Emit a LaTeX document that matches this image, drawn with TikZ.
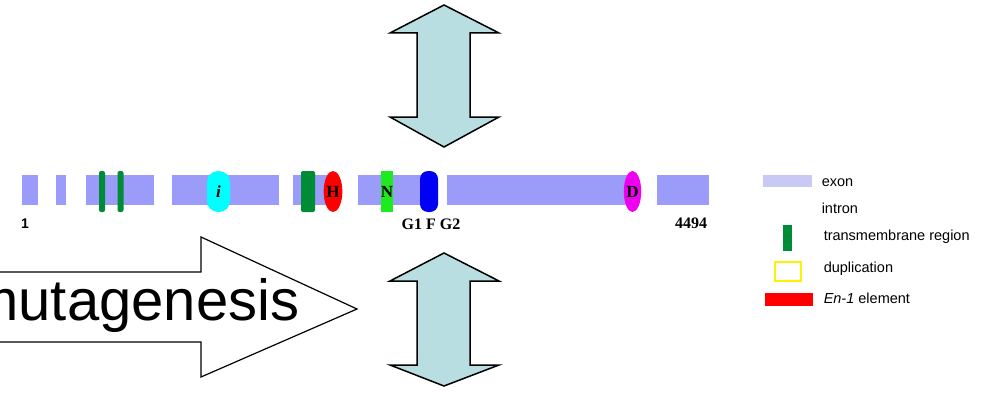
\documentclass[tikz,border=0pt]{standalone}
\usepackage{fontspec}
\setmainfont{Liberation Serif}
\setsansfont{Liberation Sans}
\usetikzlibrary{shapes.geometric}
\definecolor{exonblue}{RGB}{155,155,250}
\definecolor{exonlight}{RGB}{200,202,245}
\definecolor{tmgreen}{RGB}{0,140,55}
\definecolor{nbright}{RGB}{30,235,30}
\definecolor{icyan}{RGB}{0,255,255}
\definecolor{dmagenta}{RGB}{240,0,240}
\definecolor{fblue}{RGB}{0,0,245}
\definecolor{hred}{RGB}{255,0,0}
\definecolor{arrowfill}{RGB}{184,222,226}

\begin{document}
\begin{tikzpicture}[x=1pt, y=-1pt, line width=1.5pt,
    marker/.style={inner sep=0pt, minimum height=41pt, font=\fontsize{17}{17}\selectfont\bfseries},
    tm/.style={fill=tmgreen, inner sep=0pt, minimum height=41pt, rounded corners=2pt},
    numlabel/.style={font=\fontsize{16}{16}\selectfont\bfseries},
    legendtext/.style={anchor=west, inner sep=0pt, font=\sffamily\fontsize{14.5}{14.5}\selectfont}]
        \useasboundingbox (0,0) rectangle (993,396);

        % Double arrows
        \foreach \ya/\yb/\yc/\yd in {5/33/117/147, 253/281/365/386}
            \filldraw[fill=arrowfill, draw=black, line join=miter]
                (444,\ya) -- (499,\yb) -- (470,\yb) -- (470,\yc) -- (499,\yc) -- (444,\yd)
                -- (390,\yc) -- (417,\yc) -- (417,\yb) -- (390,\yb) -- cycle;

        % Exons
        \foreach \xa/\xb in {22/38, 56/66, 86/154, 172/279, 293/338, 358/432, 447/630, 657/709}
            \fill[exonblue] (\xa,175) rectangle (\xb,205);

        % Transmembrane regions
        \node[tm, minimum width=6pt] (tmA) at (102,191.5) {};
        \node[tm, minimum width=6pt] (tmB) at (120.5,191.5) {};
        \node[tm, minimum width=14pt] (tmC) at (308,191.5) {};

        % Motifs
        \node[marker, fill=icyan, minimum width=23pt, rounded corners=11pt] (motifI) at (218.5,191.5) {\textit{i}};
        \node[marker, ellipse, fill=hred, minimum width=16pt] (motifH) at (333,191.5) {H};
        \node[marker, fill=nbright, minimum width=12pt] (motifN) at (387,191.5) {N};
        \node[marker, fill=fblue, minimum width=18pt, rounded corners=8pt] (motifF) at (429,191.5) {};
        \node[marker, ellipse, fill=dmagenta, minimum width=17pt] (motifD) at (632.5,191.5) {D};

        % Labels
        \node[numlabel, font=\sffamily\fontsize{14}{14}\selectfont\bfseries] (startpos) at (25,224) {1};
        \node[numlabel] (glabel) at (431,224) {G1 F G2};
        \node[numlabel] (endpos) at (691,223) {4494};

        % Mutagenesis arrow
        \filldraw[fill=white, draw=black, line width=1.2pt, line join=miter]
            (-5,272) -- (201,272) -- (201,237) -- (357,309) -- (201,377) -- (201,342) -- (-5,342);
        \node[anchor=base east, inner sep=0pt, font=\sffamily\fontsize{58}{58}\selectfont] (mutagenesis) at (300,320) {mutagenesis};

        % Legend
        \node[fill=exonlight, inner sep=0pt, minimum width=49pt, minimum height=12pt] (keyexon) at (787.5,181) {};
        \node[legendtext] (txtexon) at (821,183) {exon};
        \node[legendtext] (txtintron) at (821,208) {intron};
        \node[fill=tmgreen, inner sep=0pt, minimum width=9pt, minimum height=26pt] (keytm) at (787.5,238) {};
        \node[legendtext] (txttm) at (823,237) {transmembrane region};
        \node[draw=yellow, fill=white, line width=2pt, inner sep=0pt, minimum width=26pt, minimum height=19pt] (keydup) at (788,271.5) {};
        \node[legendtext] (txtdup) at (823,269) {duplication};
        \node[fill=hred, inner sep=0pt, minimum width=48pt, minimum height=13pt] (keyen) at (789,299.5) {};
        \node[legendtext] (txten) at (823,298) {\textit{En-1} element};
    \end{tikzpicture}
\end{document}
